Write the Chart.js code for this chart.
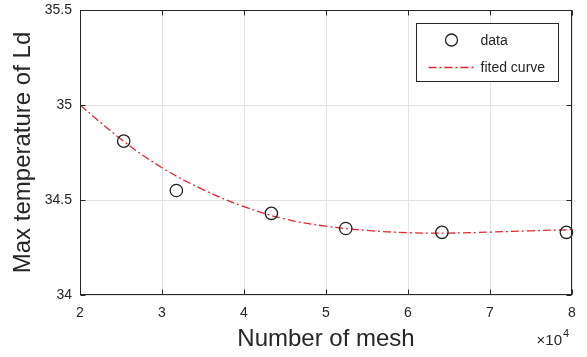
<!DOCTYPE html>
<html><head><meta charset="utf-8">
<script src="https://cdn.jsdelivr.net/npm/chart.js@4.4.1/dist/chart.umd.min.js"></script>
<style>html,body{margin:0;padding:0;background:#fff;}#wrap{width:587px;height:357px;}</style>
</head><body><div id="wrap"><canvas id="c" width="587" height="357"></canvas></div>
<script>
// ---- data ----
const meshCount = [25330, 31750, 43340, 52410, 64140, 79320];
const maxTemp   = [34.81, 34.55, 34.43, 34.35, 34.33, 34.33];
const fitMesh   = [20000, 25000, 30000, 35000, 40000, 45000, 50000, 55000, 60000, 65000, 70000, 75000, 80000];
const fitTemp   = [35.00, 34.82, 34.67, 34.555, 34.465, 34.40, 34.362, 34.34, 34.328, 34.326, 34.331, 34.338, 34.344];
const xTickValues = [20000, 30000, 40000, 50000, 60000, 70000, 80000];
const xTickLabels = ['2', '3', '4', '5', '6', '7', '8'];
const yTickValues = [34, 34.5, 35, 35.5];
const yTickLabels = ['34', '34.5', '35', '35.5'];
const seriesNames = ['data', 'fited curve'];
const xTitle = 'Number of mesh';
const yTitle = 'Max temperature of Ld';
const xExpBase = '\u00d710';
const xExp = '4';

const FONT = "'Liberation Sans', Arial, Helvetica, sans-serif";
const AXC = '#262626';
const RED = 'rgb(228,38,48)';
const DASH = [8, 3, 2, 3];

const framePlugin = {
  id: 'frame',
  beforeDraw(chart) {
    const ctx = chart.ctx;
    ctx.save(); ctx.fillStyle = '#fff'; ctx.fillRect(0, 0, chart.width, chart.height); ctx.restore();
  },
  afterDraw(chart) {
    const {ctx, chartArea: a, scales: {x, y}} = chart;
    const L = Math.round(a.left) + 0.5, R = Math.round(a.right) - 0.5;
    const T = Math.round(a.top) + 0.5, B = Math.round(a.bottom) - 0.5;
    ctx.save();
    ctx.strokeStyle = AXC; ctx.lineWidth = 1;
    ctx.strokeRect(L, T, R - L, B - T);
    const tl = 5;
    ctx.beginPath();
    xTickValues.forEach(v => {
      const px = Math.round(x.getPixelForValue(v)) + 0.5;
      ctx.moveTo(px, B); ctx.lineTo(px, B - tl);
      ctx.moveTo(px, T); ctx.lineTo(px, T + tl);
    });
    yTickValues.forEach(v => {
      const py = Math.round(y.getPixelForValue(v)) + 0.5;
      ctx.moveTo(L, py); ctx.lineTo(L + tl, py);
      ctx.moveTo(R, py); ctx.lineTo(R - tl, py);
    });
    ctx.stroke();

    // exponent label
    ctx.fillStyle = AXC;
    ctx.textBaseline = 'alphabetic';
    ctx.textAlign = 'right';
    ctx.font = '15px ' + FONT;
    ctx.fillText(xExpBase, a.right - 10, 345);
    ctx.textAlign = 'left';
    ctx.font = '11px ' + FONT;
    ctx.fillText(xExp, a.right - 9, 337);

    // legend
    const bw = 142, bh = 58;
    const bx = Math.round(a.right - 14 - bw) + 0.5, by = Math.round(a.top + 13) + 0.5;
    ctx.fillStyle = '#fff';
    ctx.fillRect(bx, by, bw, bh);
    ctx.strokeStyle = AXC; ctx.lineWidth = 1;
    ctx.strokeRect(bx, by, bw, bh);
    ctx.beginPath();
    ctx.strokeStyle = '#222'; ctx.lineWidth = 1.3;
    ctx.arc(bx + 35, by + 16.5, 6, 0, Math.PI * 2);
    ctx.stroke();
    ctx.beginPath();
    ctx.strokeStyle = RED; ctx.lineWidth = 1.3; ctx.setLineDash(DASH);
    ctx.moveTo(bx + 12, by + 44); ctx.lineTo(bx + 60, by + 44);
    ctx.stroke();
    ctx.setLineDash([]);
    ctx.fillStyle = AXC;
    ctx.font = '14px ' + FONT;
    ctx.textAlign = 'left'; ctx.textBaseline = 'middle';
    ctx.fillText(seriesNames[0], bx + 64, by + 17.5);
    ctx.fillText(seriesNames[1], bx + 64, by + 44.5);
    ctx.restore();
  }
};

new Chart(document.getElementById('c'), {
  type: 'scatter',
  data: {
    datasets: [
      {
        label: seriesNames[0],
        data: meshCount.map((m, i) => ({x: m, y: maxTemp[i]})),
        showLine: false,
        pointStyle: 'circle',
        pointRadius: 6.2,
        pointBorderWidth: 1.3,
        pointBorderColor: '#222',
        pointBackgroundColor: 'rgba(0,0,0,0)',
        clip: false
      },
      {
        label: seriesNames[1],
        data: fitMesh.map((m, i) => ({x: m, y: fitTemp[i]})),
        showLine: true,
        pointRadius: 0,
        borderColor: RED,
        borderWidth: 1.3,
        borderDash: DASH,
        tension: 0.4,
        fill: false
      }
    ]
  },
  options: {
    responsive: false,
    animation: false,
    devicePixelRatio: 1,
    layout: {padding: {top: 10, right: 15, left: 0, bottom: 0}},
    plugins: {legend: {display: false}, tooltip: {enabled: false}},
    scales: {
      x: {
        type: 'linear', min: 20000, max: 80000,
        afterBuildTicks: s => { s.ticks = xTickValues.map(v => ({value: v})); },
        afterFit: s => { s.height = 62; s.paddingLeft = 0; s.paddingRight = 0; },
        ticks: {
          callback: (v) => { const i = xTickValues.indexOf(v); return i >= 0 ? xTickLabels[i] : ''; },
          font: {family: FONT, size: 14}, color: AXC, padding: 10, maxRotation: 0, autoSkip: false
        },
        grid: {color: '#e3e3e3', lineWidth: 1, drawTicks: false},
        border: {display: false},
        title: {display: true, text: xTitle, font: {family: FONT, size: 24}, color: AXC, padding: {top: 0, bottom: 3}}
      },
      y: {
        type: 'linear', min: 34, max: 35.5,
        afterBuildTicks: s => { s.ticks = yTickValues.map(v => ({value: v})); },
        afterFit: s => { s.width = 80; s.paddingTop = 0; s.paddingBottom = 0; },
        ticks: {
          callback: (v) => { const i = yTickValues.indexOf(v); return i >= 0 ? yTickLabels[i] : ''; },
          font: {family: FONT, size: 14}, color: AXC, padding: 8, autoSkip: false
        },
        grid: {color: '#e3e3e3', lineWidth: 1, drawTicks: false},
        border: {display: false},
        title: {display: true, text: yTitle, font: {family: FONT, size: 24}, color: AXC, padding: {top: 9, bottom: 0}}
      }
    }
  },
  plugins: [framePlugin]
});
</script></body></html>
